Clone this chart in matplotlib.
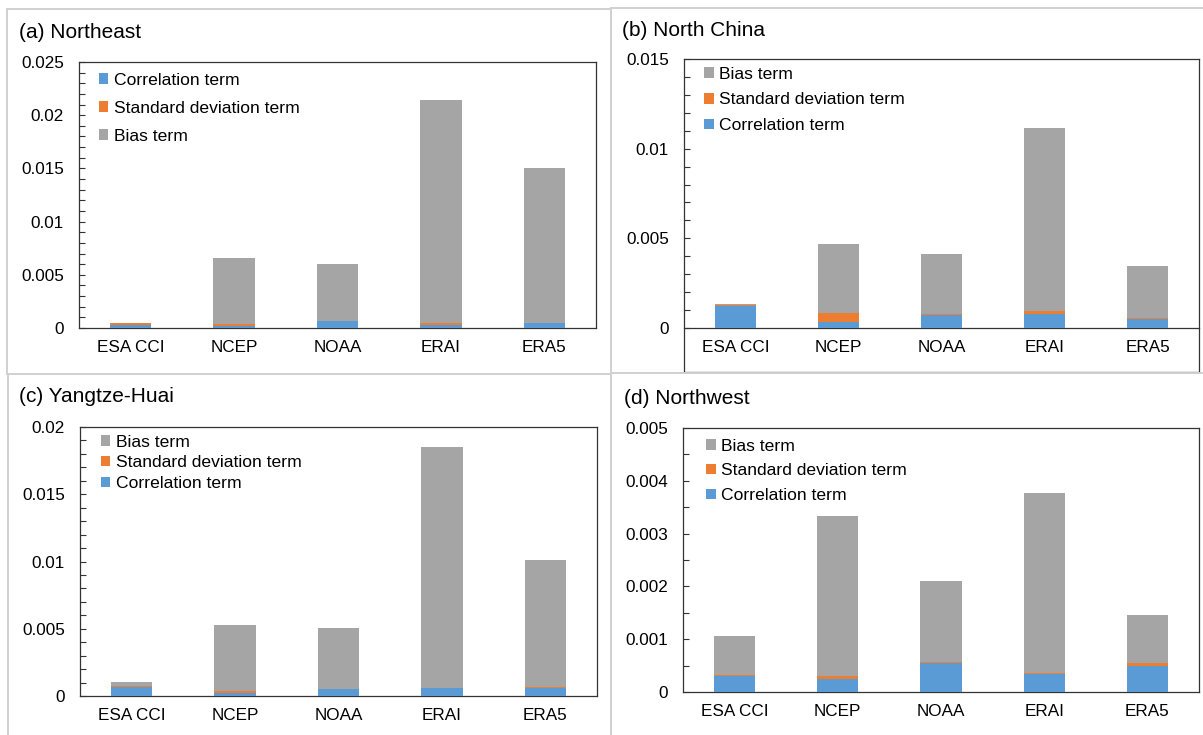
import matplotlib
matplotlib.use("Agg")
import matplotlib.pyplot as plt
from matplotlib.lines import Line2D
from matplotlib.patches import Patch
from matplotlib.ticker import FixedLocator, FuncFormatter

plt.rcParams["font.family"] = ["Liberation Sans", "DejaVu Sans"]

# Products compared in every region
products = ["ESA CCI", "NCEP", "NOAA", "ERAI", "ERA5"]

# (a) Northeast: decomposition of the MSE into three terms
ne_corr = [0.00030, 0.00015, 0.00063, 0.00025, 0.00044]
ne_std = [0.00015, 0.00025, 0.00005, 0.00019, 0.00002]
ne_bias = [0.00005, 0.00618, 0.00537, 0.02102, 0.01455]

# (b) North China
nc_corr = [0.00120, 0.00034, 0.00071, 0.00080, 0.00052]
nc_std = [0.00011, 0.00051, 0.00007, 0.00015, 0.00006]
nc_bias = [0.00003, 0.00385, 0.00336, 0.01018, 0.00290]

# (c) Yangtze-Huai
yh_corr = [0.00070, 0.00020, 0.00052, 0.00059, 0.00062]
yh_std = [0.00002, 0.00017, 0.00002, 0.00002, 0.00005]
yh_bias = [0.00034, 0.00493, 0.00452, 0.01789, 0.00947]

# (d) Northwest
nw_corr = [0.00031, 0.00024, 0.00054, 0.00035, 0.00050]
nw_std = [0.00001, 0.00006, 0.00002, 0.00001, 0.00004]
nw_bias = [0.00075, 0.00304, 0.00155, 0.00340, 0.00091]

C_CORR = "#5B9BD5"
C_STD = "#ED7D31"
C_BIAS = "#A5A5A5"
LBL_CORR = "Correlation term"
LBL_STD = "Standard deviation term"
LBL_BIAS = "Bias term"

W, H = 1203, 735
fig = plt.figure(figsize=(W / 100, H / 100), dpi=100)
fig.patch.set_facecolor("white")


def px_axes(x0, y_top, x1, y_bot):
    return fig.add_axes([x0 / W, 1 - y_bot / H, (x1 - x0) / W, (y_bot - y_top) / H])


def fig_line(xs, ys, color="#d0d0d0", lw=1.4):
    fig.add_artist(Line2D([x / W for x in xs], [1 - y / H for y in ys],
                          transform=fig.transFigure, color=color, lw=lw))


# light frames around the four panels
fig_line([7, 611], [8.5, 8.5])
fig_line([611, 1203], [7.5, 7.5])
fig_line([7, 7], [8.5, 374])
fig_line([611, 611], [7.5, 735])
fig_line([7, 611], [374, 374])
fig_line([611, 1203], [373, 373])
fig_line([7.5, 7.5], [374, 735])

FS = 12.3
FS_LEG = 12.6


def style_ticks(ax):
    ax.tick_params(axis="x", length=0, pad=9, labelsize=FS)
    ax.tick_params(axis="y", which="both", direction="in", length=4, width=0.8,
                   color="#333333", labelsize=FS, pad=11)


def panel(ax, corr, std, bias, ymax, major, minor, legend_order, leg_xy,
          labelspacing, title, title_xy, ymin=0.0):
    x = list(range(len(products)))
    bottom2 = [c + s for c, s in zip(corr, std)]
    kw = dict(width=0.4, linewidth=0, zorder=3)
    ax.bar(x, corr, color=C_CORR, **kw)
    ax.bar(x, std, bottom=corr, color=C_STD, **kw)
    ax.bar(x, bias, bottom=bottom2, color=C_BIAS, **kw)

    ax.set_xlim(-0.5, len(products) - 0.5)
    ax.set_ylim(ymin, ymax)
    ax.set_xticks(x)
    ax.set_xticklabels(products)

    n_major = int(round(ymax / major))
    ax.yaxis.set_major_locator(FixedLocator([i * major for i in range(n_major + 1)]))
    n_minor = int(round(ymax / minor))
    ax.yaxis.set_minor_locator(FixedLocator([i * minor for i in range(n_minor + 1)]))
    ax.yaxis.set_major_formatter(FuncFormatter(lambda v, p: f"{v:.4g}" if abs(v) > 1e-12 else "0"))
    style_ticks(ax)
    for s in ax.spines.values():
        s.set_color("#333333")
        s.set_linewidth(0.9)

    handles = {
        LBL_CORR: Patch(facecolor=C_CORR, linewidth=0),
        LBL_STD: Patch(facecolor=C_STD, linewidth=0),
        LBL_BIAS: Patch(facecolor=C_BIAS, linewidth=0),
    }
    ax.legend([handles[k] for k in legend_order], legend_order, loc="upper left",
              bbox_to_anchor=leg_xy, frameon=False, fontsize=FS_LEG, borderpad=0,
              borderaxespad=0, handlelength=0.55, handleheight=0.55,
              handletextpad=0.3, labelspacing=labelspacing)

    fig.text(title_xy[0] / W, 1 - title_xy[1] / H, title, fontsize=15,
             ha="left", va="center")


# (a) Northeast
ax_a = px_axes(79, 62, 596, 328)
panel(ax_a, ne_corr, ne_std, ne_bias, 0.025, 0.005, 0.001,
      [LBL_CORR, LBL_STD, LBL_BIAS], (0.038, 0.96), 0.74,
      "(a) Northeast", (19, 33))

# (b) North China: plot area continues below the zero line
b_top, b_zero, b_bot = 59, 328, 372
b_ymax = 0.015
b_ymin = -(b_bot - b_zero) * b_ymax / (b_zero - b_top)
ax_b = px_axes(684, b_top, 1199, b_bot)
panel(ax_b, nc_corr, nc_std, nc_bias, b_ymax, 0.005, 0.001,
      [LBL_BIAS, LBL_STD, LBL_CORR], (0.039, 0.975), 0.61,
      "(b) North China", (622, 30), ymin=b_ymin)
ax_b.spines["bottom"].set_position(("data", 0))
style_ticks(ax_b)
ax_b.add_line(Line2D([0, 1], [0, 0], transform=ax_b.transAxes, color="#333333",
                     lw=0.9, clip_on=False))

# (c) Yangtze-Huai
ax_c = px_axes(80, 427, 597, 696)
panel(ax_c, yh_corr, yh_std, yh_bias, 0.02, 0.005, 0.001,
      [LBL_BIAS, LBL_STD, LBL_CORR], (0.04, 0.972), 0.33,
      "(c) Yangtze-Huai", (19, 396))

# (d) Northwest
ax_d = px_axes(683, 428, 1199, 692)
panel(ax_d, nw_corr, nw_std, nw_bias, 0.005, 0.001, 0.0005,
      [LBL_BIAS, LBL_STD, LBL_CORR], (0.045, 0.96), 0.56,
      "(d) Northwest", (624, 399))

fig.savefig("out.png", dpi=100, facecolor="white")
